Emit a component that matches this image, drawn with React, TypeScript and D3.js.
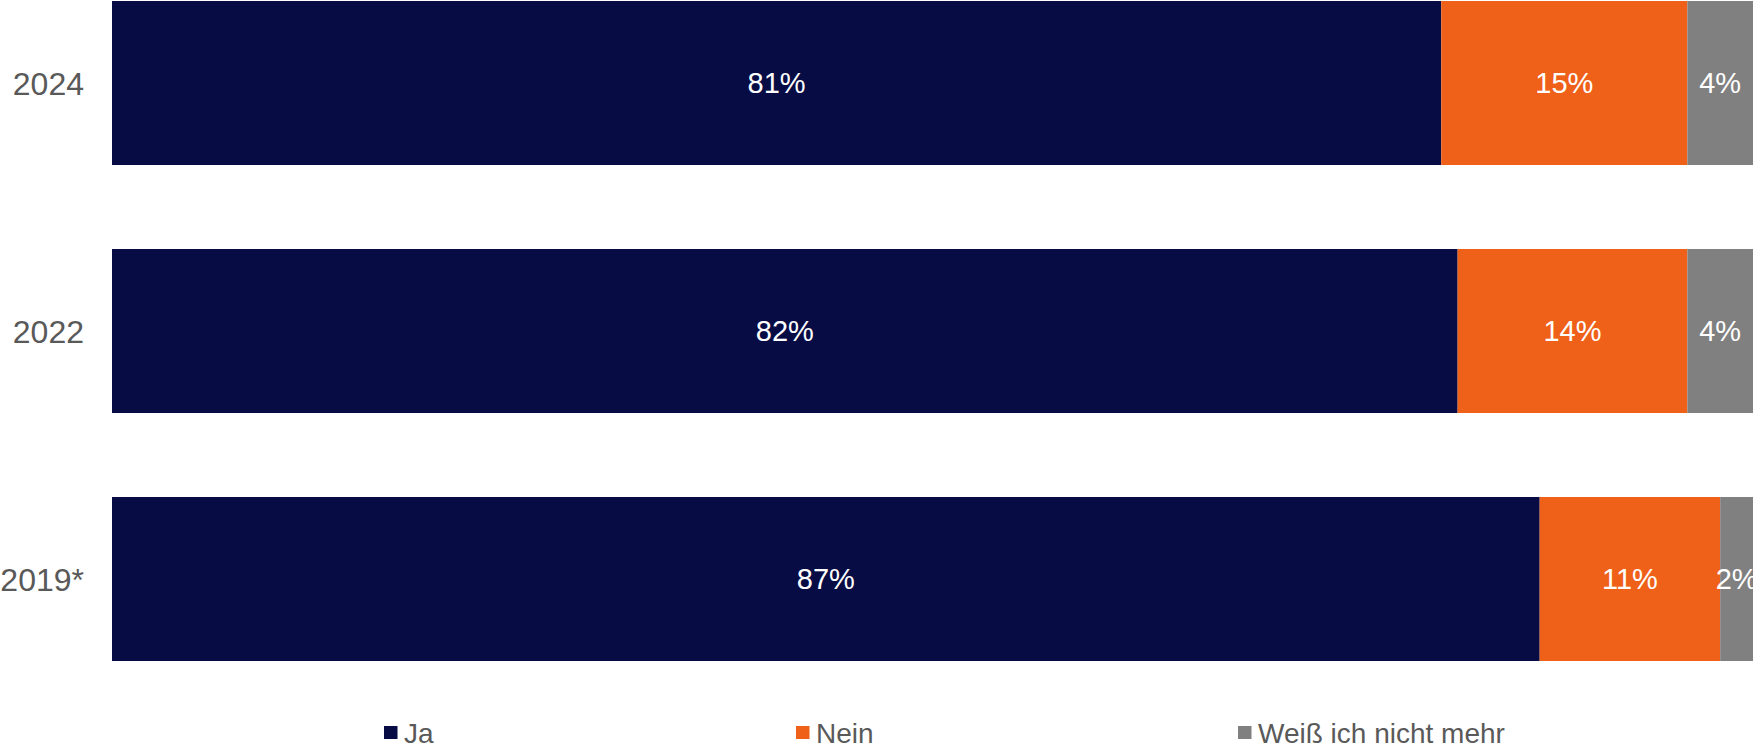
import React from "react";
import * as d3 from "d3";

const years = ["2024", "2022", "2019*"];
const seriesNames = ["Ja", "Nein", "Weiß ich nicht mehr"];
const ja = [81, 82, 87];
const nein = [15, 14, 11];
const weiss = [4, 4, 2];
const colors = ["#070C45", "#EF6019", "#808080"];

const W = 1753;
const H = 750;

export default function App() {
  const rows = years.map((y, i) => ({ year: y, Ja: ja[i], Nein: nein[i], "Weiß ich nicht mehr": weiss[i] }));
  const stack = d3.stack<any>().keys(seriesNames)(rows);
  const x = d3.scaleLinear().domain([0, 100]).range([112, 1753]);
  const y = d3.scaleBand().domain(years).range([1, 661]).paddingInner(0.3387).paddingOuter(0);
  const legendX = [384, 796, 1238];
  const font = "Liberation Sans, Arial, sans-serif";
  return (
    <svg width={W} height={H} style={{ position: "absolute", left: 0, top: 0 }} fontFamily={font}>
      {stack.map((s, si) => (
        <g key={s.key} fill={colors[si]}>
          {s.map((d, i) => {
            const x0 = x(d[0]);
            const x1 = x(d[1]);
            const yy = y(years[i])!;
            return (
              <g key={i}>
                <rect x={x0} y={yy} width={x1 - x0} height={y.bandwidth()} />
                <text
                  x={(x0 + x1) / 2}
                  y={yy + y.bandwidth() / 2}
                  dy="0.36em"
                  textAnchor="middle"
                  fill="#FFFFFF"
                  fontSize={29}
                >
                  {`${d[1] - d[0]}%`}
                </text>
              </g>
            );
          })}
        </g>
      ))}
      {years.map((yr) => (
        <text
          key={yr}
          x={84}
          y={y(yr)! + y.bandwidth() / 2}
          dy="0.36em"
          textAnchor="end"
          fill="#595959"
          fontSize={32}
        >
          {yr}
        </text>
      ))}
      {seriesNames.map((n, i) => (
        <g key={n}>
          <rect x={legendX[i]} y={726} width={13.5} height={13} fill={colors[i]} />
          <text x={legendX[i] + 20} y={743} fill="#595959" fontSize={28}>
            {n}
          </text>
        </g>
      ))}
    </svg>
  );
}
